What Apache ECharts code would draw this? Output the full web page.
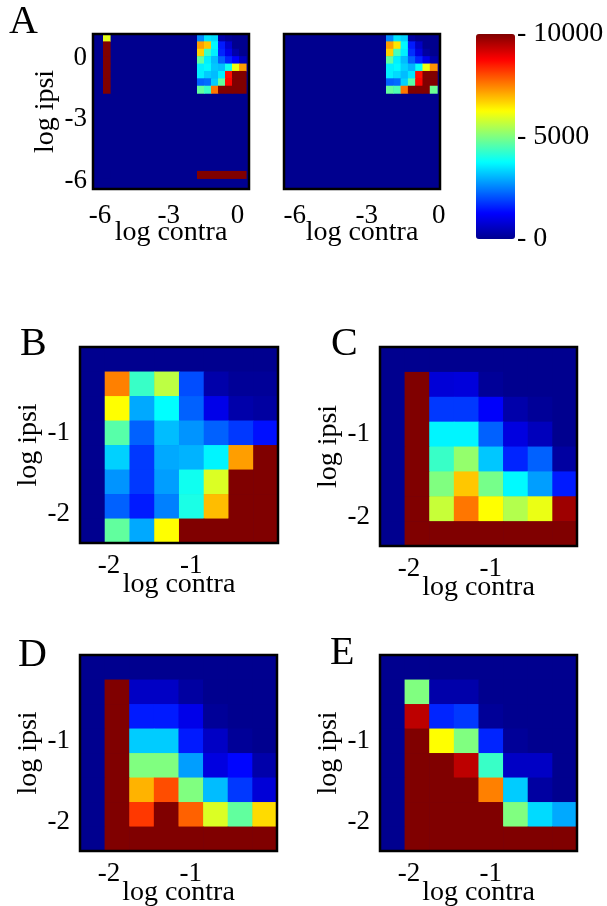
<!DOCTYPE html>
<html>
<head>
<meta charset="utf-8">
<script src="https://cdn.jsdelivr.net/npm/echarts@6/dist/echarts.min.js"></script>
<style>
  html, body { margin: 0; padding: 0; background: #fff; }
  #chart { width: 607px; height: 906px; }
</style>
</head>
<body>
<div id="chart"></div>
<script>
// ---- data ----
// panels B-E: log10 contrast of each bin (first bin stands for zero contrast)
var contraBE = [-2.204, -1.903, -1.602, -1.301, -1.0, -0.699, -0.398, -0.097];
var ipsiBE = [-0.097, -0.398, -0.699, -1.0, -1.301, -1.602, -1.903, -2.204]; // top row first
var ticksBE = [-2, -1];

// panel A: wide range view
var contraA1 = [-5.712, -1.614, -1.309, -1.004, -0.699, -0.394, -0.089, 0.216];
var contraA2 = [-2.048, -1.744, -1.44, -1.136, -0.832, -0.528, -0.224];
var ipsiA1 = [0.97, 0.61, 0.25, -0.11, -0.47, -0.83, -1.19, -1.55, -5.70];
var ipsiA2 = [0.97, 0.61, 0.25, -0.11, -0.47, -0.83, -1.19, -1.55];
var ticksA = [-6, -3, 0];
var colorbarTicks = [0, 5000, 10000];

var valuesA1 = [
  [6000, 2600, 3500, 3400, 300, 100, 0, 0],
  [10000, 7200, 6800, 3700, 1500, 700, 0, 0],
  [10000, 6700, 4300, 3600, 1600, 1000, 300, 0],
  [10000, 4700, 3600, 3100, 2200, 1600, 1200, 500],
  [10000, 3600, 3700, 3200, 3100, 3900, 6100, 7200],
  [10000, 3600, 3250, 3100, 3600, 8600, 10000, 10000],
  [10000, 2200, 2300, 3250, 4700, 8700, 10000, 10000],
  [10000, 4700, 4300, 7600, 10000, 10000, 10000, 10000],
  [0, 10000, 10000, 10000, 10000, 10000, 10000, 10000]
];
var valuesA2 = [
  [2600, 3500, 3300, 200, 0, 0, 0],
  [7200, 6500, 3700, 1500, 600, 0, 0],
  [6700, 4400, 3600, 1700, 900, 200, 0],
  [4700, 3600, 3100, 2200, 1600, 1000, 300],
  [3600, 3700, 3300, 3000, 3800, 6100, 7300],
  [3600, 3400, 3100, 3500, 8600, 10000, 10000],
  [2200, 2300, 3300, 4600, 8700, 10000, 10000],
  [4700, 4500, 7600, 10000, 10000, 10000, 4800]
];
var valuesB = [
  [0, 0, 0, 0, 0, 0, 0, 0],
  [0, 7500, 4300, 5600, 2000, 300, 100, 100],
  [0, 6250, 2900, 3750, 2200, 1000, 300, 200],
  [0, 4600, 2200, 3100, 2700, 2200, 1800, 1400],
  [0, 3300, 1800, 2900, 3000, 3650, 7200, 10000],
  [0, 2700, 1800, 2800, 3900, 5900, 10000, 10000],
  [0, 2200, 1500, 2500, 4000, 6900, 10000, 10000],
  [0, 4700, 2900, 6250, 10000, 10000, 10000, 10000]
];
var valuesC = [
  [0, 0, 0, 0, 0, 0, 0, 0],
  [0, 10000, 800, 850, 100, 0, 0, 0],
  [0, 10000, 1800, 1800, 1200, 300, 100, 0],
  [0, 10000, 3650, 3650, 2200, 900, 500, 0],
  [0, 10000, 4300, 5200, 3200, 1600, 2200, 200],
  [0, 10000, 5000, 6800, 4900, 3700, 2800, 1500],
  [0, 10000, 5700, 7600, 6250, 5500, 6050, 9700],
  [0, 10000, 10000, 10000, 10000, 10000, 10000, 10000]
];
var valuesD = [
  [0, 0, 0, 0, 0, 0, 0, 0],
  [0, 10000, 600, 600, 200, 0, 0, 0],
  [0, 10000, 1500, 1500, 1000, 100, 0, 0],
  [0, 10000, 3250, 3250, 1500, 600, 100, 0],
  [0, 10000, 5000, 5000, 2800, 900, 1300, 300],
  [0, 10000, 7000, 8000, 5000, 3100, 1800, 800],
  [0, 10000, 8200, 10000, 7800, 5900, 4700, 6600],
  [0, 10000, 10000, 10000, 10000, 10000, 10000, 10000]
];
var valuesE = [
  [0, 0, 0, 0, 0, 0, 0, 0],
  [0, 5000, 300, 300, 0, 0, 0, 0],
  [0, 9400, 1600, 1800, 100, 0, 0, 0],
  [0, 10000, 6250, 5000, 1600, 100, 0, 0],
  [0, 10000, 10000, 9400, 4300, 600, 600, 0],
  [0, 10000, 10000, 10000, 7500, 3250, 200, 0],
  [0, 10000, 10000, 10000, 10000, 5000, 3400, 2900],
  [0, 10000, 10000, 10000, 10000, 10000, 10000, 10000]
];

// ---- styling ----
var jet = ['#00008F', '#0000FF', '#0080FF', '#00FFFF', '#80FF80', '#FFFF00', '#FF8000', '#FF0000', '#800000'];
var serif = '"Liberation Serif", "Times New Roman", serif';

var panels = [
  { left: 93, top: 34, width: 156, height: 155, xMin: -6.3, xMax: 0.5, yMin: -6.4, yMax: 1.15,
    contra: contraA1, ipsi: ipsiA1, values: valuesA1, dx: 0.305, dy: 0.36, ticks: ticksA, yLabels: true, big: true },
  { left: 284, top: 34, width: 156, height: 155, xMin: -6.45, xMax: 0.05, yMin: -6.4, yMax: 1.15,
    contra: contraA2, ipsi: ipsiA2, values: valuesA2, dx: 0.304, dy: 0.36, ticks: ticksA, yLabels: false, big: true },
  { left: 80, top: 347, width: 198, height: 196, xMin: -2.354, xMax: 0.054, yMin: -2.354, yMax: 0.054,
    contra: contraBE, ipsi: ipsiBE, values: valuesB, dx: 0.301, dy: 0.301, ticks: ticksBE, yLabels: true },
  { left: 380, top: 347, width: 197, height: 199, xMin: -2.354, xMax: 0.054, yMin: -2.354, yMax: 0.054,
    contra: contraBE, ipsi: ipsiBE, values: valuesC, dx: 0.301, dy: 0.301, ticks: ticksBE, yLabels: true },
  { left: 80, top: 655, width: 197, height: 196, xMin: -2.354, xMax: 0.054, yMin: -2.354, yMax: 0.054,
    contra: contraBE, ipsi: ipsiBE, values: valuesD, dx: 0.301, dy: 0.301, ticks: ticksBE, yLabels: true },
  { left: 380, top: 655, width: 197, height: 196, xMin: -2.354, xMax: 0.054, yMin: -2.354, yMax: 0.054,
    contra: contraBE, ipsi: ipsiBE, values: valuesE, dx: 0.301, dy: 0.301, ticks: ticksBE, yLabels: true }
];

var letters = [
  { text: 'A', x: 9, y: 22 },
  { text: 'B', x: 20, y: 344 },
  { text: 'C', x: 331, y: 344 },
  { text: 'D', x: 18, y: 655 },
  { text: 'E', x: 330, y: 653 }
];

function toCells(contra, ipsi, values) {
  var out = [];
  values.forEach(function (row, i) {
    row.forEach(function (v, j) {
      out.push([contra[j], ipsi[i], v]);
    });
  });
  return out;
}

function cellRenderer(dx, dy) {
  return function (params, api) {
    var x = api.value(0), y = api.value(1);
    var p0 = api.coord([x - dx / 2, y + dy / 2]);
    var p1 = api.coord([x + dx / 2, y - dy / 2]);
    var cs = params.coordSys;
    var rect = echarts.graphic.clipRectByRect(
      { x: p0[0], y: p0[1], width: p1[0] - p0[0] + 0.6, height: p1[1] - p0[1] + 0.6 },
      { x: cs.x, y: cs.y, width: cs.width, height: cs.height }
    );
    if (!rect) return;
    return { type: 'rect', shape: rect, style: { fill: api.visual('color') } };
  };
}

var grid = [], xAxis = [], yAxis = [], series = [], graphic = [];

panels.forEach(function (p, k) {
  grid.push({
    left: p.left, top: p.top, width: p.width, height: p.height,
    outerBoundsMode: 'none', containLabel: false,
    backgroundColor: jet[0], show: true, borderWidth: 0
  });
  xAxis.push({
    type: 'value', gridIndex: k, min: p.xMin, max: p.xMax,
    axisLine: { show: false }, axisTick: { show: false }, splitLine: { show: false },
    axisLabel: { customValues: p.ticks, margin: p.big ? 13 : 9, fontSize: 27, color: '#000', fontFamily: serif },
    name: 'log contra', nameLocation: 'middle', nameGap: p.big ? 30 : 28, nameMoveOverlap: false,
    nameTextStyle: { fontSize: 28, color: '#000', fontFamily: serif }
  });
  yAxis.push({
    type: 'value', gridIndex: k, min: p.yMin, max: p.yMax,
    axisLine: { show: false }, axisTick: { show: false }, splitLine: { show: false },
    axisLabel: { show: p.yLabels, customValues: p.ticks, margin: p.big ? 6 : 10, fontSize: 27, color: '#000', fontFamily: serif },
    name: p.yLabels ? 'log ipsi' : '', nameLocation: 'middle', nameGap: p.big ? 33 : 37, nameMoveOverlap: false,
    nameTextStyle: { fontSize: 28, color: '#000', fontFamily: serif }
  });
  series.push({
    type: 'custom', xAxisIndex: k, yAxisIndex: k,
    renderItem: cellRenderer(p.dx, p.dy),
    encode: { x: 0, y: 1 },
    data: toCells(p.contra, p.ipsi, p.values),
    silent: true
  });
  graphic.push({
    type: 'rect', z: 100, silent: true,
    shape: { x: p.left, y: p.top, width: p.width, height: p.height },
    style: { fill: null, stroke: '#000', lineWidth: 2.5 }
  });
});

// colour bar axis; the "-" marks are drawn as part of the label text
grid.push({ left: 476, top: 34, width: 39, height: 205, outerBoundsMode: 'none', containLabel: false });
xAxis.push({ type: 'value', gridIndex: 6, min: 0, max: 1, show: false });
yAxis.push({
  type: 'value', gridIndex: 6, position: 'right', min: 0, max: 10000, interval: 5000,
  axisLine: { show: false }, axisTick: { show: false }, splitLine: { show: false },
  axisLabel: {
    margin: 2, fontSize: 28, color: '#000', fontFamily: serif,
    customValues: colorbarTicks,
    formatter: function (v) { return '- ' + v; }
  }
});

letters.forEach(function (l) {
  graphic.push({
    type: 'text', z: 100, silent: true,
    style: { text: l.text, x: l.x, y: l.y, font: '40px ' + serif, fill: '#000', textVerticalAlign: 'middle' }
  });
});

var chart = echarts.init(document.getElementById('chart'));
chart.setOption({
  animation: false,
  grid: grid,
  xAxis: xAxis,
  yAxis: yAxis,
  visualMap: {
    type: 'continuous', min: 0, max: 10000, dimension: 2,
    seriesIndex: [0, 1, 2, 3, 4, 5],
    inRange: { color: jet },
    calculable: false, hoverLink: false, showLabel: false,
    orient: 'vertical', left: 476, top: 34, itemWidth: 39, itemHeight: 205,
    padding: 0, text: null
  },
  graphic: graphic,
  series: series
});
</script>
</body>
</html>
